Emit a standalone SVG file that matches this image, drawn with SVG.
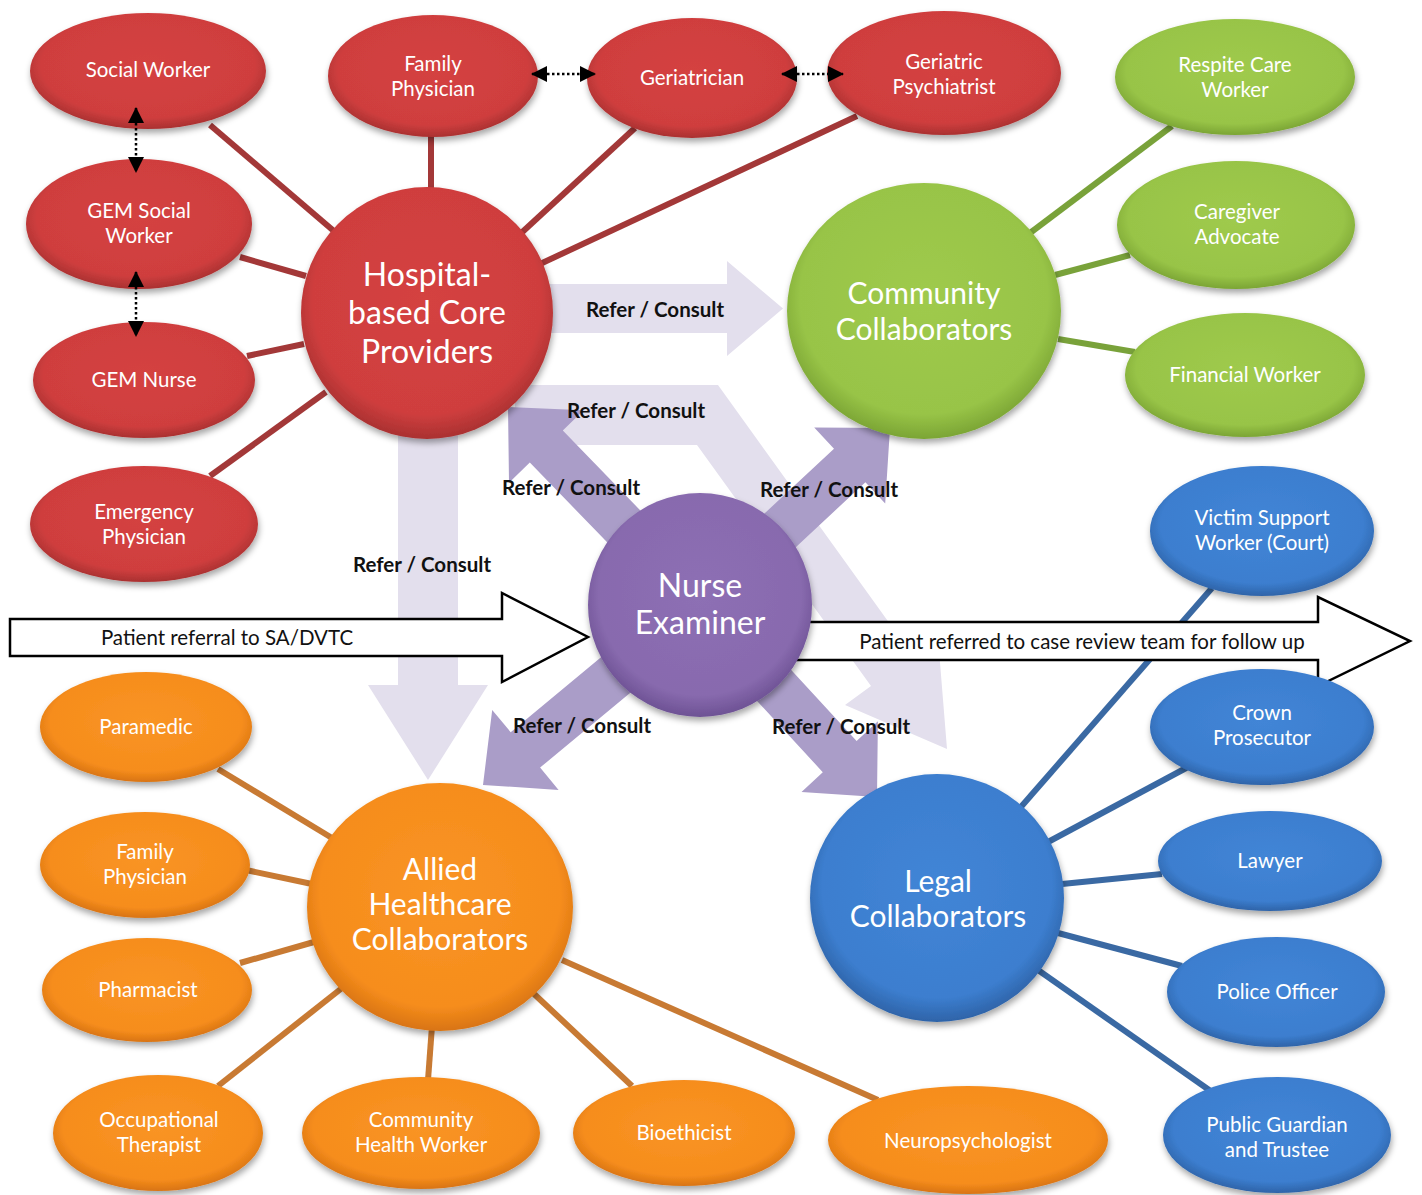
<svg xmlns="http://www.w3.org/2000/svg" width="1422" height="1195" viewBox="0 0 1422 1195">
<style>
.nt{font-family:Lato,"Open Sans","Liberation Sans",sans-serif;fill:#fff;text-anchor:middle}
.s{font-size:20.5px}
.h{font-size:32px}
.h2{font-size:30px}
.lbl{font-family:Lato,"Open Sans","Liberation Sans",sans-serif;font-weight:bold;font-size:20.5px;fill:#111;text-anchor:middle}
.pl{font-family:Lato,"Open Sans","Liberation Sans",sans-serif;font-size:20.5px;fill:#111;text-anchor:middle}
.cr{stroke:#a33838;stroke-width:6}
.cg{stroke:#79a23a;stroke-width:6}
.cb{stroke:#3a69a3;stroke-width:6}
.co{stroke:#c87a33;stroke-width:6}
.lt{fill:#e3dfed}
.dk{fill:#aa9dc8}
.wa{fill:#fff;stroke:#000;stroke-width:2.5;stroke-linejoin:miter}
.dot{stroke:#000;stroke-width:2.5;stroke-dasharray:2.5 2.5;fill:none;marker-start:url(#tri);marker-end:url(#tri)}
.red{fill:url(#gR)}
.grn{fill:url(#gG)}
.blu{fill:url(#gB)}
.org{fill:url(#gO)}
.pur{fill:url(#gP)}
.node ellipse,.node circle{filter:url(#sh)}
</style>
<defs>
<filter id="sh" x="-20%" y="-20%" width="140%" height="150%">
<feDropShadow dx="1" dy="4" stdDeviation="3" flood-color="#000" flood-opacity="0.35"/>
</filter>
<radialGradient id="gR" cx="50%" cy="45%" r="58%">
<stop offset="0" stop-color="#d44241"/><stop offset="0.78" stop-color="#cf3e3e"/><stop offset="1" stop-color="#9e2d2d"/>
</radialGradient>
<radialGradient id="gG" cx="50%" cy="45%" r="58%">
<stop offset="0" stop-color="#9fca4d"/><stop offset="0.78" stop-color="#98c447"/><stop offset="1" stop-color="#729b2f"/>
</radialGradient>
<radialGradient id="gB" cx="50%" cy="45%" r="58%">
<stop offset="0" stop-color="#4285d6"/><stop offset="0.78" stop-color="#3c7ecf"/><stop offset="1" stop-color="#2a5b9c"/>
</radialGradient>
<radialGradient id="gO" cx="50%" cy="45%" r="58%">
<stop offset="0" stop-color="#f99425"/><stop offset="0.78" stop-color="#f68d1c"/><stop offset="1" stop-color="#cf6c10"/>
</radialGradient>
<radialGradient id="gP" cx="50%" cy="45%" r="58%">
<stop offset="0" stop-color="#8d6fb4"/><stop offset="0.78" stop-color="#886aae"/><stop offset="1" stop-color="#654a8c"/>
</radialGradient>
<marker id="tri" markerUnits="userSpaceOnUse" markerWidth="16" markerHeight="16" viewBox="0 0 16 16" refX="15" refY="8" orient="auto-start-reverse">
<path d="M0,0 L16,8 L0,16 z" fill="#000"/>
</marker>
</defs>
<rect width="1422" height="1195" fill="#fff"/>

<g id="connectors">
<line class="cr" x1="210" y1="125" x2="335" y2="232"/>
<line class="cr" x1="431" y1="135" x2="431" y2="192"/>
<line class="cr" x1="635" y1="128" x2="518" y2="236"/>
<line class="cr" x1="857" y1="116" x2="540" y2="264"/>
<line class="cr" x1="240" y1="257" x2="306" y2="276"/>
<line class="cr" x1="247" y1="356" x2="304" y2="344"/>
<line class="cr" x1="210" y1="476" x2="326" y2="392"/>
<line class="cg" x1="1172" y1="126" x2="1030" y2="233"/>
<line class="cg" x1="1130" y1="255" x2="1055" y2="275"/>
<line class="cg" x1="1135" y1="352" x2="1058" y2="339"/>
<line class="cb" x1="1212" y1="588" x2="1020" y2="808"/>
<line class="cb" x1="1188" y1="767" x2="1048" y2="842"/>
<line class="cb" x1="1162" y1="874" x2="1062" y2="884"/>
<line class="cb" x1="1182" y1="966" x2="1058" y2="933"/>
<line class="cb" x1="1212" y1="1092" x2="1038" y2="970"/>
<line class="co" x1="218" y1="769" x2="332" y2="838"/>
<line class="co" x1="246" y1="870" x2="312" y2="884"/>
<line class="co" x1="240" y1="963" x2="314" y2="942"/>
<line class="co" x1="218" y1="1086" x2="342" y2="988"/>
<line class="co" x1="428" y1="1080" x2="432" y2="1026"/>
<line class="co" x1="632" y1="1086" x2="532" y2="992"/>
<line class="co" x1="878" y1="1100" x2="562" y2="960"/>

<g id="flows">
<polygon class="lt" points="540,284 727,284 727,261 783,308.5 727,356 727,333 540,333"/>
<polygon class="lt" points="398,430 458,430 458,685 488,685 428,780 368,685 398,685"/>
<polygon class="lt" points="515,385 718,385 913,656 938,638 947,749 845,705 871,686 697,445 515,445"/>
<polygon class="dk" points="716.5,589 562.8,430.5 583.6,410.3 508,407 509,482.7 529.8,462.5 683.5,621"/>
<polygon class="dk" points="715.7,621.8 865.4,482.3 885.2,503.6 890,428 814.2,427.4 834,448.7 684.3,588.2"/>
<polygon class="dk" points="685.3,587.3 510.7,732.2 492.2,709.9 483,785 558.6,789.9 540.1,767.6 714.7,622.7"/>
<polygon class="dk" points="683.1,620.6 822.8,772.2 801.5,791.9 877,797 877.9,721.3 856.6,741 716.9,589.4"/>
<polygon class="wa" points="10,619 502,619 502,593 588,637 502,682 502,656 10,656"/>
<text class="pl" x="227" y="645">Patient referral to SA/DVTC</text>
<polygon class="wa" points="760,622 1318,622 1318,597 1410,641 1318,686 1318,660 760,660"/>
<text class="pl" x="1082" y="649">Patient referred to case review team for follow up</text>
</g>
</g>

<g id="hospital" class="node"><circle class="red" cx="427" cy="313" r="126"/>
<text class="nt h" x="427" y="286">Hospital-</text><text class="nt h" x="427" y="324">based Core</text><text class="nt h" x="427" y="363">Providers</text></g>
<g id="community" class="node"><ellipse class="grn" cx="924" cy="311" rx="137" ry="128"/>
<text class="nt h2" x="924" y="304">Community</text><text class="nt h2" x="924" y="340">Collaborators</text></g>
<g id="nurse" class="node"><circle class="pur" cx="700" cy="605" r="112"/>
<text class="nt h" x="700" y="597">Nurse</text><text class="nt h" x="700" y="634">Examiner</text></g>
<g id="allied" class="node"><ellipse class="org" cx="440" cy="907" rx="133" ry="124"/>
<text class="nt h2" x="440" y="880">Allied</text><text class="nt h2" x="440" y="915">Healthcare</text><text class="nt h2" x="440" y="950">Collaborators</text></g>
<g id="legal" class="node"><ellipse class="blu" cx="937" cy="898" rx="127" ry="124"/>
<text class="nt h2" x="938" y="892">Legal</text><text class="nt h2" x="938" y="927">Collaborators</text></g>

<g id="social-worker" class="node"><ellipse class="red" cx="148" cy="71" rx="118" ry="58"/><text class="nt s" x="148" y="77">Social Worker</text></g>
<g id="family-physician" class="node"><ellipse class="red" cx="433" cy="76" rx="105" ry="61"/><text class="nt s" x="433" y="71">Family</text><text class="nt s" x="433" y="96">Physician</text></g>
<g id="geriatrician" class="node"><ellipse class="red" cx="692" cy="78" rx="105" ry="60"/><text class="nt s" x="692" y="85">Geriatrician</text></g>
<g id="geriatric-psychiatrist" class="node"><ellipse class="red" cx="944" cy="73" rx="117" ry="62"/><text class="nt s" x="944" y="69">Geriatric</text><text class="nt s" x="944" y="94">Psychiatrist</text></g>
<g id="gem-social-worker" class="node"><ellipse class="red" cx="139" cy="224" rx="113" ry="65"/><text class="nt s" x="139" y="218">GEM Social</text><text class="nt s" x="139" y="243">Worker</text></g>
<g id="gem-nurse" class="node"><ellipse class="red" cx="144" cy="380" rx="111" ry="58"/><text class="nt s" x="144" y="387">GEM Nurse</text></g>
<g id="emergency-physician" class="node"><ellipse class="red" cx="144" cy="524" rx="114" ry="58"/><text class="nt s" x="144" y="519">Emergency</text><text class="nt s" x="144" y="544">Physician</text></g>

<g id="respite-care-worker" class="node"><ellipse class="grn" cx="1235" cy="77" rx="120" ry="58"/><text class="nt s" x="1235" y="72">Respite Care</text><text class="nt s" x="1235" y="97">Worker</text></g>
<g id="caregiver-advocate" class="node"><ellipse class="grn" cx="1236" cy="225" rx="119" ry="64"/><text class="nt s" x="1237" y="219">Caregiver</text><text class="nt s" x="1237" y="244">Advocate</text></g>
<g id="financial-worker" class="node"><ellipse class="grn" cx="1245" cy="375" rx="120" ry="62"/><text class="nt s" x="1245" y="382">Financial Worker</text></g>

<g id="victim-support-worker" class="node"><ellipse class="blu" cx="1262" cy="531" rx="112" ry="65"/><text class="nt s" x="1262" y="525">Victim Support</text><text class="nt s" x="1262" y="550">Worker (Court)</text></g>
<g id="crown-prosecutor" class="node"><ellipse class="blu" cx="1262" cy="727" rx="112" ry="58"/><text class="nt s" x="1262" y="720">Crown</text><text class="nt s" x="1262" y="745">Prosecutor</text></g>
<g id="lawyer" class="node"><ellipse class="blu" cx="1270" cy="861" rx="112" ry="50"/><text class="nt s" x="1270" y="868">Lawyer</text></g>
<g id="police-officer" class="node"><ellipse class="blu" cx="1276" cy="992" rx="109" ry="55"/><text class="nt s" x="1277" y="999">Police Officer</text></g>
<g id="public-guardian" class="node"><ellipse class="blu" cx="1277" cy="1135" rx="114" ry="58"/><text class="nt s" x="1277" y="1132">Public Guardian</text><text class="nt s" x="1277" y="1157">and Trustee</text></g>

<g id="paramedic" class="node"><ellipse class="org" cx="146" cy="727" rx="106" ry="55"/><text class="nt s" x="146" y="734">Paramedic</text></g>
<g id="family-physician-2" class="node"><ellipse class="org" cx="145" cy="865" rx="105" ry="53"/><text class="nt s" x="145" y="859">Family</text><text class="nt s" x="145" y="884">Physician</text></g>
<g id="pharmacist" class="node"><ellipse class="org" cx="147" cy="990" rx="105" ry="52"/><text class="nt s" x="148" y="997">Pharmacist</text></g>
<g id="occupational-therapist" class="node"><ellipse class="org" cx="158" cy="1133" rx="105" ry="58"/><text class="nt s" x="159" y="1127">Occupational</text><text class="nt s" x="159" y="1152">Therapist</text></g>
<g id="community-health-worker" class="node"><ellipse class="org" cx="421" cy="1133" rx="119" ry="56"/><text class="nt s" x="421" y="1127">Community</text><text class="nt s" x="421" y="1152">Health Worker</text></g>
<g id="bioethicist" class="node"><ellipse class="org" cx="684" cy="1133" rx="111" ry="53"/><text class="nt s" x="684" y="1140">Bioethicist</text></g>
<g id="neuropsychologist" class="node"><ellipse class="org" cx="968" cy="1140" rx="140" ry="54"/><text class="nt s" x="968" y="1148">Neuropsychologist</text></g>

<g id="dotted-links">
<line class="dot" x1="136" y1="108" x2="136" y2="172"/>
<line class="dot" x1="136" y1="272" x2="136" y2="336"/>
<line class="dot" x1="532" y1="74" x2="595" y2="74"/>
<line class="dot" x1="782" y1="74" x2="843" y2="74"/>
</g>

<g id="flow-labels">
<text class="lbl" x="655" y="317">Refer / Consult</text>
<text class="lbl" x="636" y="418">Refer / Consult</text>
<text class="lbl" x="571" y="495">Refer / Consult</text>
<text class="lbl" x="829" y="497">Refer / Consult</text>
<text class="lbl" x="422" y="572">Refer / Consult</text>
<text class="lbl" x="582" y="733">Refer / Consult</text>
<text class="lbl" x="841" y="734">Refer / Consult</text>
</g>
</svg>
